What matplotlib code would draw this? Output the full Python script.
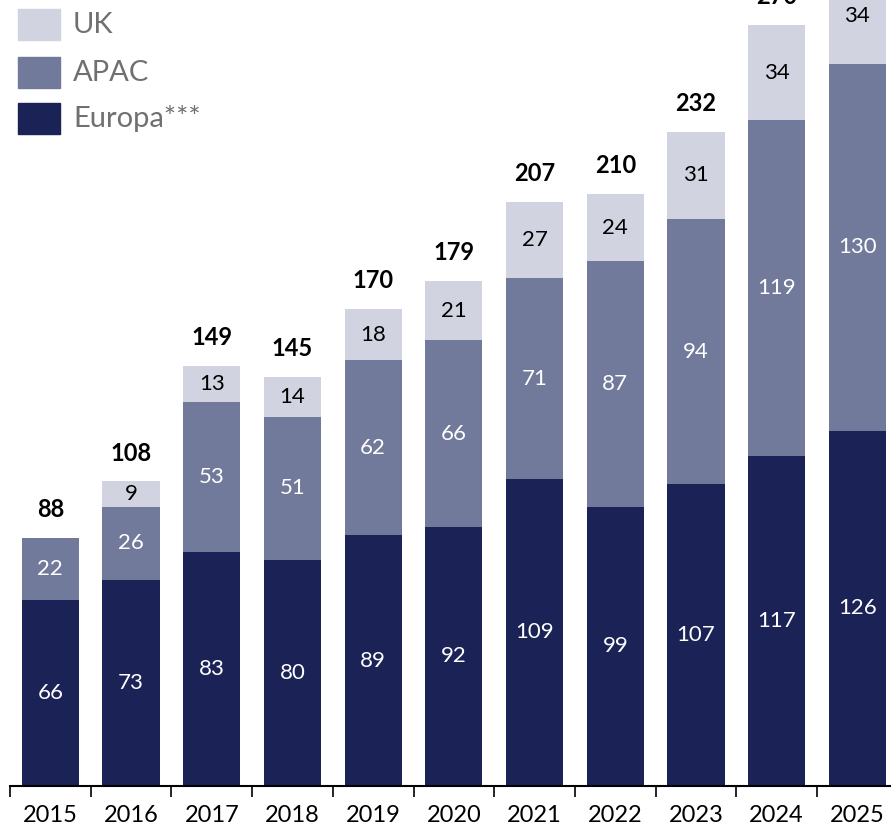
import matplotlib.pyplot as plt
from matplotlib.patches import Rectangle

# data
years = ["2015", "2016", "2017", "2018", "2019", "2020", "2021", "2022", "2023", "2024", "2025"]
europa = [66, 73, 83, 80, 89, 92, 109, 99, 107, 117, 126]
apac = [22, 26, 53, 51, 62, 66, 71, 87, 94, 119, 130]
uk = [0, 9, 13, 14, 18, 21, 27, 24, 31, 34, 34]
totals = [88, 108, 149, 145, 170, 179, 207, 210, 232, 270, 290]

c_eu = "#1B2356"
c_apac = "#717A9B"
c_uk = "#D1D3E0"

plt.rcParams['font.family'] = ['Lato', 'DejaVu Sans']

W, H = 891, 830
fig = plt.figure(figsize=(W / 100, H / 100), dpi=100)

# axes extends past the top/right of the picture (chart is cropped)
ymax = 300
px_per_unit = 2.82
base = 44
left = 10
pitch = 80.7
ax = fig.add_axes([left / W, base / H, pitch * 11 / W, ymax * px_per_unit / H])
ax.set_xlim(-0.5, 10.5)
ax.set_ylim(0, ymax)

x = list(range(len(years)))
bw = 0.71
bottom2 = [e + a for e, a in zip(europa, apac)]
ax.bar(x, europa, bw, color=c_eu)
ax.bar(x, apac, bw, bottom=europa, color=c_apac)
ax.bar(x, uk, bw, bottom=bottom2, color=c_uk)

for i in x:
    ax.text(i, europa[i] / 2, str(europa[i]), ha='center', va='center', color='white', fontsize=16)
    ax.text(i, europa[i] + apac[i] / 2, str(apac[i]), ha='center', va='center', color='white', fontsize=16)
    if uk[i]:
        ax.text(i, bottom2[i] + uk[i] / 2, str(uk[i]), ha='center', va='center', color='black', fontsize=16)
    ax.text(i, bottom2[i] + uk[i] + 6, str(totals[i]), ha='center', va='bottom',
            color='black', fontsize=17, fontweight='bold')

for s in ['top', 'right', 'left']:
    ax.spines[s].set_visible(False)
ax.spines['bottom'].set_linewidth(1.5)
ax.set_yticks([])
ax.set_xticks([i - 0.5 for i in range(12)])
ax.set_xticklabels([])
ax.tick_params(axis='x', which='major', length=8, width=1.2, color='black')
ax.set_xticks(x, minor=True)
ax.set_xticklabels(years, minor=True, fontsize=17)
ax.tick_params(axis='x', which='minor', length=0, pad=14)

# legend drawn by hand in pixel space
names = ["UK", "APAC", "Europa***"]
cols = [c_uk, c_apac, c_eu]
tops = [9, 57, 103]
for n, c, t in zip(names, cols, tops):
    fig.add_artist(Rectangle((18 / W, 1 - (t + 31) / H), 42 / W, 31 / H,
                             transform=fig.transFigure, color=c))
    fig.text(73 / W, 1 - (t + 16) / H, n, ha='left', va='center', color='#707070', fontsize=21)

fig.savefig("out.png", dpi=100)
